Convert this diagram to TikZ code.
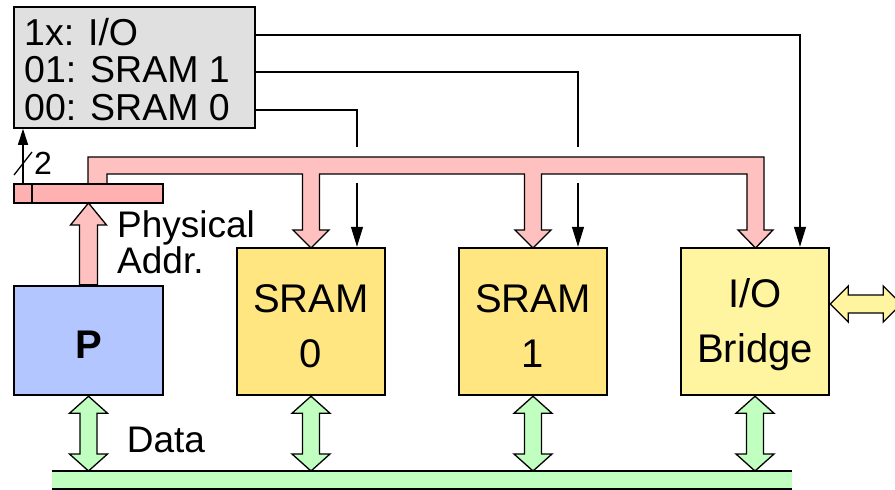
\documentclass[tikz,border=0pt]{standalone}
\usepackage{fontspec}
\setmainfont{Liberation Sans}
\usetikzlibrary{arrows.meta,calc}
\definecolor{decgray}{HTML}{E0E0E0}
\definecolor{pblue}{HTML}{B3C6FF}
\definecolor{sramy}{HTML}{FFE680}
\definecolor{ioy}{HTML}{FFF4A0}
\definecolor{busred}{HTML}{FFC0C0}
\definecolor{regred}{HTML}{FFB0B0}
\definecolor{busgreen}{HTML}{C0FFC0}
\newcommand\fatvd[3]{%
  \path[fat,fill=#3] let \p1=(#1), \p2=(#2) in
    (\p1) -- ({\x1+19pt},{\y1-17pt}) -- ({\x1+8.5pt},{\y1-17pt})
    -- ({\x1+8.5pt},{\y2+17pt}) -- ({\x1+19pt},{\y2+17pt}) -- (\x1,\y2)
    -- ({\x1-19pt},{\y2+17pt}) -- ({\x1-8.5pt},{\y2+17pt})
    -- ({\x1-8.5pt},{\y1-17pt}) -- ({\x1-19pt},{\y1-17pt}) -- cycle;}
\begin{document}
\begin{tikzpicture}[x=1pt,y=-1pt,
  unit/.style={draw, line width=2.5pt, minimum width=148pt, minimum height=147pt,
    inner sep=0pt},
  unittext/.style={inner sep=0pt, align=center, font=\fontsize{40}{55}\selectfont},
  decline/.style={anchor=west, inner sep=0pt, text height=26pt, text depth=6pt,
    font=\fontsize{37.5}{40}\selectfont},
  sig/.style={line width=1.3pt},
  sigarr/.style={sig, -{Triangle[length=20pt,width=12pt]}},
  fat/.style={draw, line width=1.3pt, line join=miter},
  lbl/.style={inner sep=0pt, font=\fontsize{37}{36}\selectfont, align=left},
  regbox/.style={draw, fill=regred, line width=1.3pt, minimum height=19pt,
    inner sep=0pt, outer sep=0pt, anchor=north west}
]
\useasboundingbox (0,0) rectangle (895,490);

% decoder
\node[draw, fill=decgray, line width=1.5pt, minimum width=241pt, minimum height=121pt,
  inner sep=0pt] (dec) at (134.5,67.5) {};
\node[decline] (d1) at (24,35) {1x: I/O};
\node[decline] (d2) at (24,72) {01: SRAM 1};
\node[decline] (d3) at (24,110) {00: SRAM 0};

% units
\node[unit, fill=pblue, minimum width=149pt, minimum height=109pt] (P) at (88.5,340.5) {};
\node[unit, fill=sramy] (S0) at (311,321.5) {};
\node[unit, fill=sramy] (S1) at (533,321.5) {};
\node[unit, fill=ioy] (IO) at (755,321.5) {};
\node[unittext, font=\fontsize{40}{40}\bfseries] (Pt) at ([yshift=-4pt]P.center) {P};
\node[unittext] (S0t) at ([yshift=-5pt]S0.center) {SRAM\\0};
\node[unittext] (S1t) at ([yshift=-5pt]S1.center) {SRAM\\1};
\node[unittext] (IOt) at ([yshift=-3pt]IO.center) {I/O\\Bridge};

% pink address bus
\path[fat, fill=busred] (88,184) -- (88,157) -- (764,157) -- (764,230) -- (773,230)
  -- (755.5,248) -- (738,230) -- (747,230) -- (747,174) -- (541.5,174) -- (541.5,230)
  -- (551,230) -- (533,248) -- (515,230) -- (524.5,230) -- (524.5,174) -- (319.5,174)
  -- (319.5,230) -- (329,230) -- (311,248) -- (293,230) -- (302.5,230) -- (302.5,174)
  -- (107,174) -- (107,184);

% address register
\node[regbox, minimum width=18pt] (regsel) at (14,184) {};
\node[regbox, minimum width=131pt] (regaddr) at (32,184) {};

% physical address arrow
\path[fat, fill=busred] let \p1=(regaddr.south -| P.north), \p2=(P.north) in
  (\p1) -- ({\x1+18pt},{\y1-22pt}) -- ({\x1+9pt},{\y1-22pt}) -- ({\x1+9pt},\y2)
  -- ({\x1-9pt},\y2) -- ({\x1-9pt},{\y1-22pt}) -- ({\x1-18pt},{\y1-22pt}) -- cycle;
\node[lbl, anchor=north west] (phys) at (117,210) {Physical\\Addr.};

% 2-bit select
\draw[sig, -{Triangle[length=16pt,width=10pt]}] (regsel.north) -- (regsel.north |- dec.south);
\draw[sig] ($(regsel.north)+(-9,-9)$) -- ($(regsel.north)+(9,-32)$);
\node[lbl, font=\fontsize{32}{32}\selectfont] (two) at (43,163) {2};

% select lines
\coordinate (s0a) at (357,147); \coordinate (s0b) at (357,183);
\coordinate (s1a) at (578,147); \coordinate (s1b) at (578,183);
\draw[sigarr] (dec.east |- d1.west) -| ([xshift=45pt]IO.north);
\draw[sig] (dec.east |- d2.west) -| (s1a);
\draw[sigarr] (s1b) -- (s1b |- S1.north);
\draw[sig] (dec.east |- d3.west) -| (s0a);
\draw[sigarr] (s0b) -- (s0b |- S0.north);

% data bus
\node[fill=busgreen, minimum width=740pt, minimum height=18pt, inner sep=0pt, outer sep=0pt,
  anchor=north west] (gbus) at (52,471) {};
\draw[sig] (gbus.north west) -- (gbus.north east);
\draw[sig] (gbus.south west) -- (gbus.south east);
\fatvd{P.south}{P.south |- gbus.north}{busgreen}
\fatvd{S0.south}{S0.south |- gbus.north}{busgreen}
\fatvd{S1.south}{S1.south |- gbus.north}{busgreen}
\fatvd{IO.south}{IO.south |- gbus.north}{busgreen}
\node[lbl] (data) at (166,440) {Data};

% external I/O arrow
\path[fat, fill=ioy] let \p1=([yshift=17.5pt]IO.east) in
  (\p1) -- ++(18pt,18pt) -- ++(0pt,-9pt) -- ++(35pt,0pt) -- ++(0pt,9pt) -- ++(18pt,-18pt)
  -- ++(-18pt,-18pt) -- ++(0pt,9pt) -- ++(-35pt,0pt) -- ++(0pt,-9pt) -- cycle;
\end{tikzpicture}
\end{document}
